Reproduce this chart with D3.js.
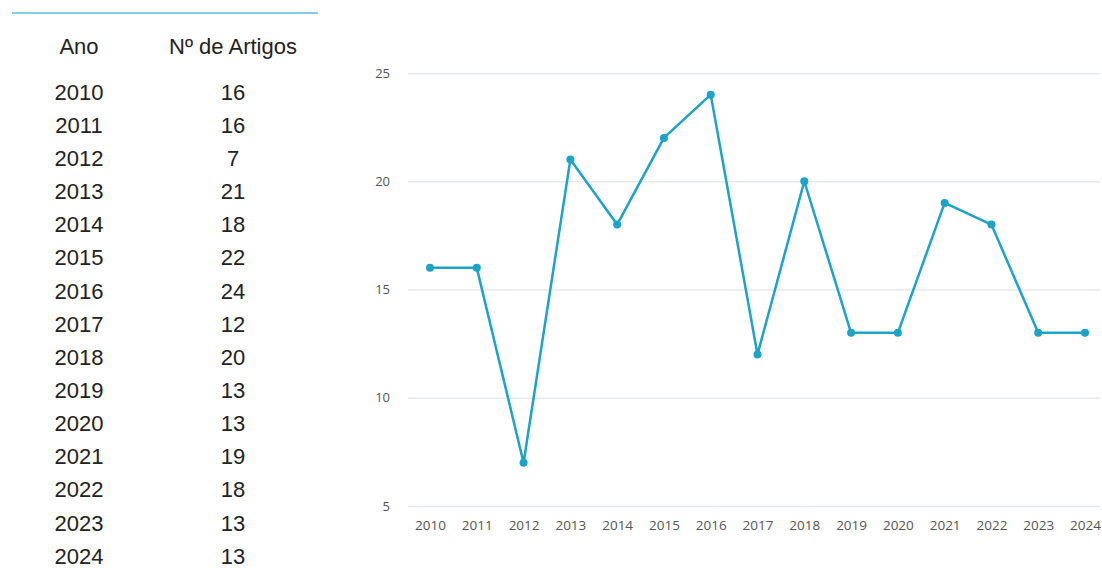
<!DOCTYPE html>
<html>
<head>
<meta charset="utf-8">
<script src="https://cdn.jsdelivr.net/npm/d3@7"></script>
<style>
  body { margin: 0; background: #fff; }
  svg { display: block; }
</style>
</head>
<body>
<svg id="chart" width="1102" height="568"></svg>
<script>
var anos = [2010, 2011, 2012, 2013, 2014, 2015, 2016, 2017, 2018, 2019, 2020, 2021, 2022, 2023, 2024];
var artigos = [16, 16, 7, 21, 18, 22, 24, 12, 20, 13, 13, 19, 18, 13, 13];
var yTicks = [5, 10, 15, 20, 25];
var headers = ['Ano', 'Nº de Artigos'];

var svg = d3.select('#chart');
var lineColor = '#1ba3c8';
var tableFont = '"Liberation Sans", Arial, sans-serif';
var axisFont = '"Open Sans", sans-serif';

// tabela à esquerda
svg.append('line')
  .attr('x1', 12).attr('x2', 318)
  .attr('y1', 13).attr('y2', 13)
  .attr('stroke', '#5bbcd9').attr('stroke-width', 1.5);

var colX = [79, 233];
var rowY = d3.scaleLinear().domain([0, anos.length - 1]).range([92, 556]);

svg.selectAll('.hdr')
  .data(headers)
  .enter().append('text')
  .attr('class', 'hdr')
  .attr('x', function(d, i){ return colX[i]; })
  .attr('y', 46)
  .attr('dy', '0.35em')
  .attr('text-anchor', 'middle')
  .style('font-family', tableFont)
  .style('font-size', '22px')
  .style('fill', '#222')
  .text(function(d){ return d; });

var rows = svg.selectAll('.row')
  .data(anos)
  .enter().append('g')
  .attr('class', 'row')
  .attr('transform', function(d, i){ return 'translate(0,' + rowY(i) + ')'; });

rows.append('text')
  .attr('x', colX[0]).attr('dy', '0.35em')
  .attr('text-anchor', 'middle')
  .style('font-family', tableFont)
  .style('font-size', '22px').style('fill', '#222')
  .text(function(d){ return d; });

rows.append('text')
  .attr('x', colX[1]).attr('dy', '0.35em')
  .attr('text-anchor', 'middle')
  .style('font-family', tableFont)
  .style('font-size', '22px').style('fill', '#222')
  .text(function(d, i){ return artigos[i]; });

// gráfico de linha
var xScale = d3.scalePoint().domain(anos).range([430, 1085]);
var yScale = d3.scaleLinear().domain([5, 25]).range([506, 73]);

var grid = svg.append('g')
  .attr('transform', 'translate(408,0)')
  .call(d3.axisLeft(yScale).tickValues(yTicks).tickSize(-692).tickPadding(18));
grid.select('.domain').remove();
grid.selectAll('.tick line').attr('stroke', '#e6e9ee').attr('stroke-width', 1.5);
grid.selectAll('.tick text')
  .style('font-family', axisFont)
  .style('font-size', '13px')
  .style('fill', '#555');

var xAxis = svg.append('g')
  .attr('transform', 'translate(0,506)')
  .call(d3.axisBottom(xScale).tickSize(0).tickPadding(14));
xAxis.select('.domain').remove();
xAxis.selectAll('.tick text')
  .style('font-family', axisFont)
  .style('font-size', '13.5px')
  .style('fill', '#555');

var line = d3.line()
  .x(function(d, i){ return xScale(anos[i]); })
  .y(function(d){ return yScale(d); });

svg.append('path')
  .datum(artigos)
  .attr('d', line)
  .attr('fill', 'none')
  .attr('stroke', lineColor)
  .attr('stroke-width', 2.5)
  .attr('stroke-linejoin', 'round');

svg.selectAll('.dot')
  .data(artigos)
  .enter().append('circle')
  .attr('class', 'dot')
  .attr('cx', function(d, i){ return xScale(anos[i]); })
  .attr('cy', function(d){ return yScale(d); })
  .attr('r', 4)
  .attr('fill', lineColor);
</script>
</body>
</html>
